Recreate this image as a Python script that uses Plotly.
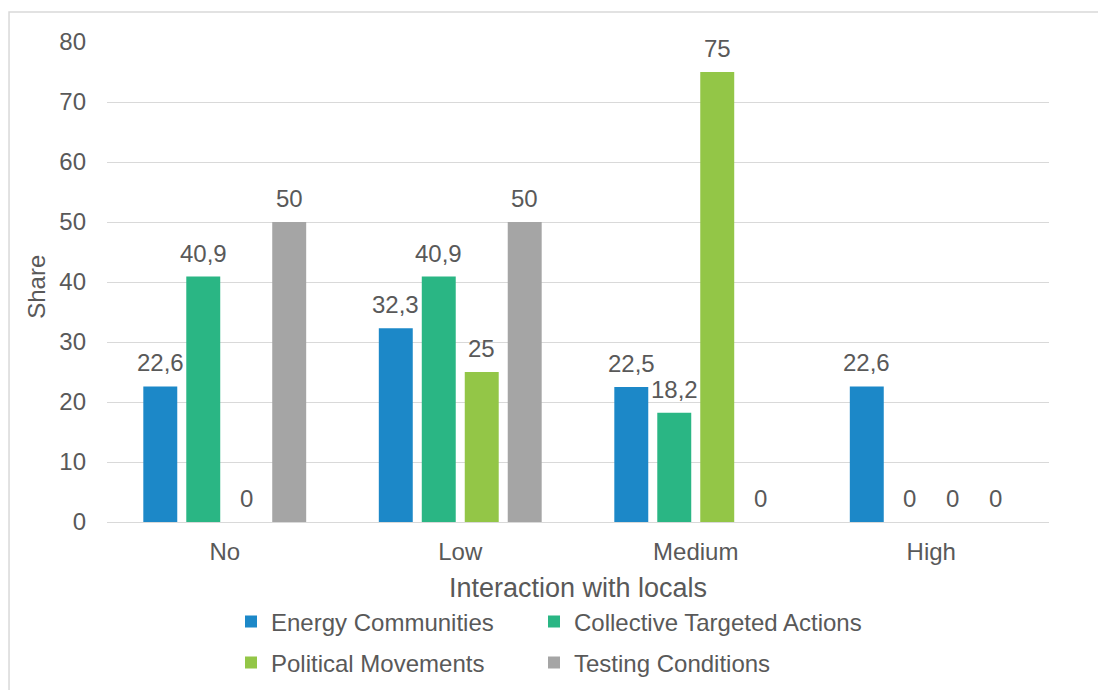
import plotly.graph_objects as go

# Share of cases by level of interaction with locals
categories = ["No", "Low", "Medium", "High"]
energy_communities = [22.6, 32.3, 22.5, 22.6]
collective_actions = [40.9, 40.9, 18.2, 0]
political_movements = [0, 25, 75, 0]
testing_conditions = [50, 50, 0, 0]
y_ticks = [0, 10, 20, 30, 40, 50, 60, 70, 80]
x_title = "Interaction with locals"
y_title = "Share"

# name, values, colour, legend id, legend slot (x, y in container px)
series = [
    ("Energy Communities", energy_communities, "#1c88c8", "legend", (231, 622)),
    ("Collective Targeted Actions", collective_actions, "#2ab684", "legend2", (534, 622)),
    ("Political Movements", political_movements, "#93c647", "legend3", (231, 663)),
    ("Testing Conditions", testing_conditions, "#a5a5a5", "legend4", (534, 663)),
]

W, H = 1098, 690
FONT = "Liberation Sans, Arial, sans-serif"
TXT = "#595959"
GRID = "#d9d9d9"
BARGAP = 0.27
BARGROUPGAP = 0.21


def label(v):
    return f"{v:g}".replace(".", ",")


fig = go.Figure()
n = len(series)
annotations = []
legends = {}
for k, (name, vals, color, leg, (lx, ly)) in enumerate(series):
    fig.add_trace(go.Bar(
        name=name,
        x=categories,
        y=vals,
        marker=dict(color=color, line=dict(width=0)),
        legend=leg,
        showlegend=True,
    ))
    legends[leg] = dict(
        visible=True,
        orientation="h",
        xref="container", yref="container",
        x=lx / W, y=1 - ly / H, xanchor="left", yanchor="middle",
        font=dict(size=24, color=TXT),
        bgcolor="rgba(0,0,0,0)",
    )
    # value labels sit above each bar of the group
    offset = (k - (n - 1) / 2) * (1 - BARGAP) / n
    for ci, v in enumerate(vals):
        annotations.append(dict(
            x=ci + offset, y=v, xref="x", yref="y",
            text=label(v), showarrow=False,
            xanchor="center", yanchor="bottom", yshift=8,
            font=dict(family=FONT, size=24, color=TXT),
        ))

# axis titles
annotations.append(dict(
    text=x_title, xref="paper", yref="paper", x=0.5, y=-0.1375,
    xanchor="center", yanchor="middle", showarrow=False,
    font=dict(family=FONT, size=27, color=TXT),
))
annotations.append(dict(
    text=y_title, xref="paper", yref="paper", x=-0.0743, y=0.49,
    xanchor="center", yanchor="middle", showarrow=False, textangle=-90,
    font=dict(family=FONT, size=24, color=TXT),
))

fig.update_layout(
    width=W,
    height=H,
    showlegend=True,
    margin=dict(l=107, r=49, t=42, b=168),
    paper_bgcolor="white",
    plot_bgcolor="white",
    barmode="group",
    bargap=BARGAP,
    bargroupgap=BARGROUPGAP,
    font=dict(family=FONT, size=24, color=TXT),
    xaxis=dict(
        showgrid=False,
        showline=True,
        linecolor=GRID,
        linewidth=1,
        ticks="",
        tickfont=dict(size=24, color=TXT),
        ticklabelstandoff=8,
        automargin=False,
    ),
    yaxis=dict(
        range=[0, 80],
        tickvals=y_ticks,
        showgrid=True,
        gridcolor=GRID,
        gridwidth=1,
        zeroline=False,
        showline=False,
        ticks="",
        tickfont=dict(size=24, color=TXT),
        ticklabelstandoff=20,
        automargin=False,
    ),
    annotations=annotations,
    shapes=[
        # chart frame
        dict(type="rect", xref="paper", yref="paper",
             x0=-0.104, x1=1.2, y0=-0.6, y1=1.0625,
             line=dict(color=GRID, width=1.5), fillcolor="rgba(0,0,0,0)", layer="below"),
    ],
    **legends,
)

fig.write_html("out.html")
